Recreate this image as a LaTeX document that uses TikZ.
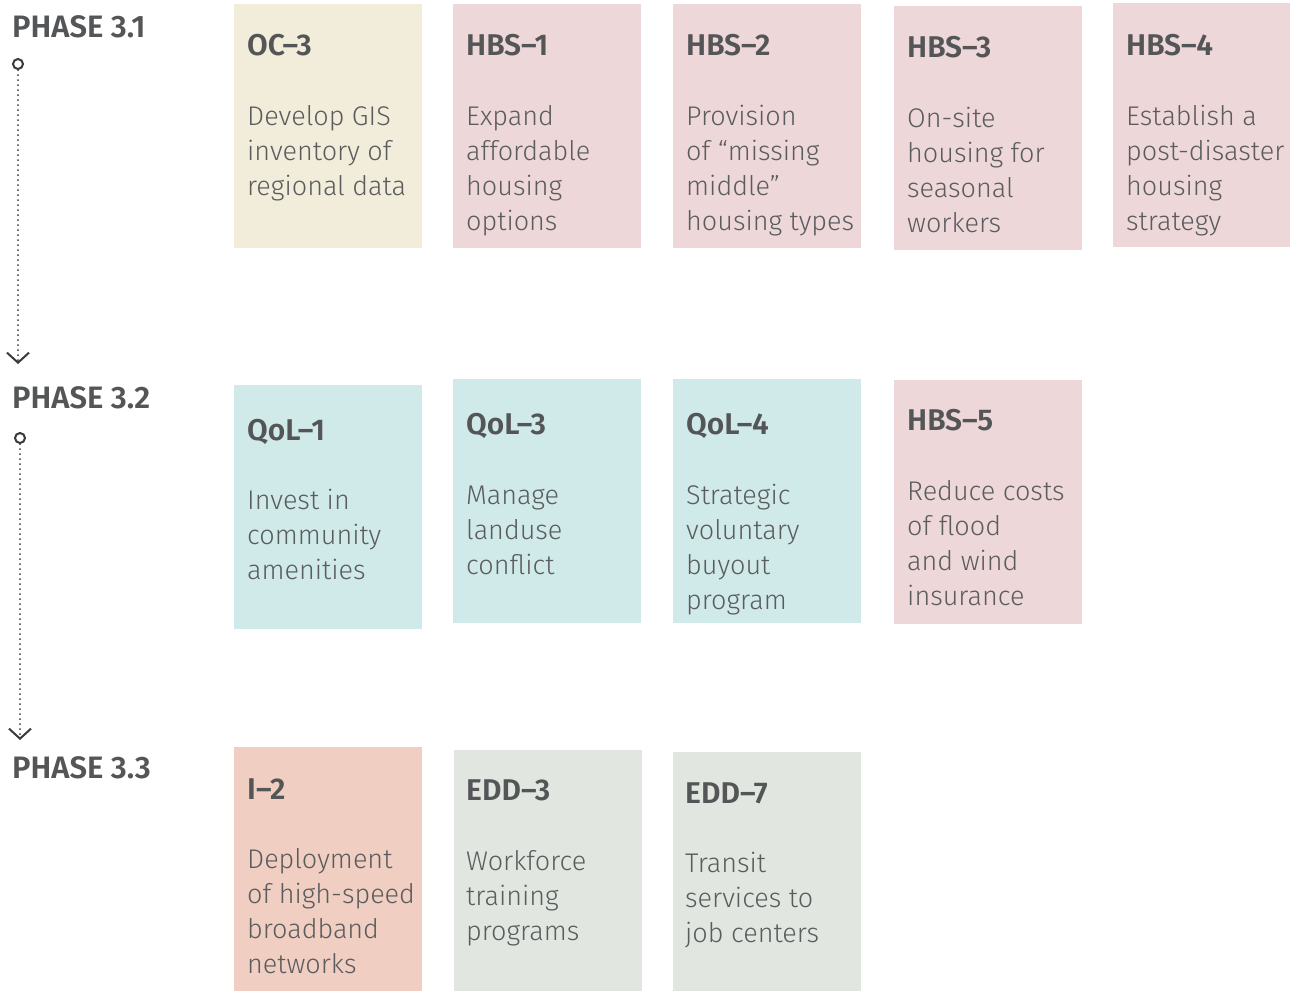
\documentclass[tikz,border=0pt]{standalone}
\usepackage{fontspec}
\setmainfont{Fira Sans}[UprightFont=* Light, BoldFont=* SemiBold]
\usetikzlibrary{arrows.meta}
\definecolor{creamc}{HTML}{F2ECDA}
\definecolor{pinkc}{HTML}{EED7D9}
\definecolor{cyanc}{HTML}{D0EAEA}
\definecolor{peachc}{HTML}{F0CEC1}
\definecolor{sagec}{HTML}{E2E6E0}
\definecolor{txtc}{HTML}{5B5C5E}
\definecolor{ttlc}{HTML}{545557}
\definecolor{linec}{HTML}{3A3A3C}
\newcommand\cardlines[1]{\vtop{\halign{##\hfil\cr#1\crcr}}}
\tikzset{
  card/.style={fill=#1, draw=none, anchor=north west, inner sep=0pt, minimum width=188pt, minimum height=244pt},
  ttl/.style={anchor=base west, inner sep=0pt, text=ttlc, font=\fontsize{30}{34}\selectfont\bfseries},
  body/.style={anchor=base west, inner sep=0pt, text=txtc, font=\fontsize{27}{35}\selectfont},
  phase/.style={anchor=base west, inner sep=0pt, text=ttlc, font=\fontsize{31}{34}\selectfont\bfseries},
  startdot/.style={circle, draw=linec, line width=2pt, minimum size=10pt, inner sep=0pt},
  flow/.style={draw=linec, line width=2pt, dash pattern=on 0pt off 5pt, line cap=round,
    -{Straight Barb[length=10pt, width=22pt, line width=2pt]}},
}
\begin{document}
\begin{tikzpicture}[x=1pt, y=-1pt]
\useasboundingbox[fill=white] (0,0) rectangle (1290,991);

% phase labels and timeline
\node[phase] (p1) at (12,37) {PHASE 3.1};
\node[phase] (p2) at (12,408) {PHASE 3.2};
\node[phase] (p3) at (12,778) {PHASE 3.3};
\node[startdot] (s1) at (18,64) {};
\coordinate (e1) at (18,364);
\draw[flow] (s1.south) -- (e1);
\node[startdot] (s2) at (20,438) {};
\coordinate (e2) at (20,740);
\draw[flow] (s2.south) -- (e2);

% row 1
\node[card=creamc] (oc3) at (234,4) {};
\node[ttl] (oc3t) at (247,55) {OC–3};
\node[body] (oc3b) at (247,125) {\cardlines{Develop GIS\cr inventory of\cr regional data}};

\node[card=pinkc] (hbs1) at (453,4) {};
\node[ttl] (hbs1t) at (466,55) {HBS–1};
\node[body] (hbs1b) at (466,125) {\cardlines{Expand\cr affordable\cr housing\cr options}};

\node[card=pinkc] (hbs2) at (673,4) {};
\node[ttl] (hbs2t) at (686,55) {HBS–2};
\node[body] (hbs2b) at (686,125) {\cardlines{Provision\cr of “missing\cr middle”\cr housing types}};

\node[card=pinkc] (hbs3) at (894,6) {};
\node[ttl] (hbs3t) at (907,57) {HBS–3};
\node[body] (hbs3b) at (907,127) {\cardlines{On-site\cr housing for\cr seasonal\cr workers}};

\node[card=pinkc, minimum width=177pt] (hbs4) at (1113,3) {};
\node[ttl] (hbs4t) at (1126,55) {HBS–4};
\node[body] (hbs4b) at (1126,125) {\cardlines{Establish a\cr post-disaster\cr housing\cr strategy}};

% row 2
\node[card=cyanc] (qol1) at (234,385) {};
\node[ttl] (qol1t) at (247,440) {QoL–1};
\node[body] (qol1b) at (247,509) {\cardlines{Invest in\cr community\cr amenities}};

\node[card=cyanc] (qol3) at (453,379) {};
\node[ttl] (qol3t) at (466,434) {QoL–3};
\node[body] (qol3b) at (466,504) {\cardlines{Manage\cr landuse\cr conflict}};

\node[card=cyanc] (qol4) at (673,379) {};
\node[ttl] (qol4t) at (686,434) {QoL–4};
\node[body] (qol4b) at (686,504) {\cardlines{Strategic\cr voluntary\cr buyout\cr program}};

\node[card=pinkc] (hbs5) at (894,380) {};
\node[ttl] (hbs5t) at (907,430) {HBS–5};
\node[body] (hbs5b) at (907,500) {\cardlines{Reduce costs\cr of flood\cr and wind\cr insurance}};

% row 3
\node[card=peachc] (i2) at (234,747) {};
\node[ttl] (i2t) at (247,799) {I–2};
\node[body] (i2b) at (247,868) {\cardlines{Deployment\cr of high-speed\cr broadband\cr networks}};

\node[card=sagec, minimum height=241pt] (edd3) at (454,750) {};
\node[ttl] (edd3t) at (466,800) {EDD–3};
\node[body] (edd3b) at (466,870) {\cardlines{Workforce\cr training\cr programs}};

\node[card=sagec, minimum height=239pt] (edd7) at (673,752) {};
\node[ttl] (edd7t) at (685,803) {EDD–7};
\node[body] (edd7b) at (685,872) {\cardlines{Transit\cr services to\cr job centers}};
\end{tikzpicture}
\end{document}
